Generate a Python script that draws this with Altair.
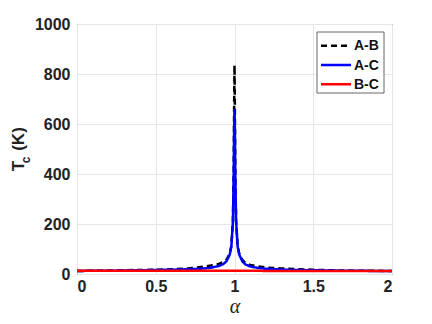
import altair as alt
import pandas as pd

alpha = [0.0, 0.1, 0.2, 0.3, 0.4, 0.5, 0.6, 0.7, 0.75, 0.8, 0.85, 0.9, 0.93, 0.95, 0.97,
         0.98, 0.99, 0.995, 0.998, 1.0, 1.002, 1.005, 1.01, 1.02, 1.03, 1.05, 1.07, 1.1,
         1.15, 1.2, 1.25, 1.3, 1.4, 1.5, 1.6, 1.7, 1.8, 1.9, 2.0]
tc_ab = [12, 13, 14, 15, 16, 17, 19, 22, 25, 29, 34, 40, 48, 58, 82,
         112, 215, 420, 700, 835, 700, 420, 215, 112, 82, 56, 44, 36,
         30, 26, 24, 22, 19, 17, 15, 14, 13, 13, 12]
tc_ac = [12, 13, 13, 14, 15, 16, 17, 19, 20, 22, 25, 32, 40, 52, 78,
         110, 210, 400, 600, 660, 600, 400, 210, 110, 78, 50, 38, 30,
         24, 21, 19, 18, 16, 15, 14, 13, 13, 12, 12]
tc_bc = [13, 13, 13, 13, 13, 13, 13, 13, 13, 13, 13, 13, 13, 13, 13,
         13, 13, 13, 13, 13, 13, 13, 13, 13, 13, 13, 13, 13,
         13, 12, 12, 12, 12, 12, 12, 12, 12, 12, 12]
series = ["A-B", "A-C", "B-C"]
colors = ["#000000", "#0000ff", "#ff0000"]
dashes = [[6, 4], [1, 0], [1, 0]]

rows = []
for name, vals in zip(series, [tc_ab, tc_ac, tc_bc]):
    for i, (a, t) in enumerate(zip(alpha, vals)):
        rows.append({"alpha": a, "Tc": t, "series": name, "order": i})
df = pd.DataFrame(rows)

font = "Liberation Sans"

lines = alt.Chart(df).mark_line(strokeWidth=2.5, clip=True).encode(
    x=alt.X("alpha:Q", scale=alt.Scale(domain=[0, 2], nice=False),
            axis=alt.Axis(values=[0, 0.5, 1, 1.5, 2], format="~g", title="α",
                          labelPadding=4,
                          titleFont="Liberation Serif", titleFontStyle="italic",
                          titleFontWeight="normal", titleFontSize=20,
                          titleY=38, titleBaseline="alphabetic", titleColor="#222")),
    y=alt.Y("Tc:Q", scale=alt.Scale(domain=[0, 1000], nice=False),
            axis=alt.Axis(values=[0, 200, 400, 600, 800, 1000], format="d", title=None,
                          labelPadding=7)),
    color=alt.Color("series:N", scale=alt.Scale(domain=series, range=colors), legend=None),
    strokeDash=alt.StrokeDash("series:N", scale=alt.Scale(domain=series, range=dashes),
                              legend=None),
    order="order:Q",
)

# y-axis title with subscript
def label(txt, size, x, y):
    return alt.Chart(pd.DataFrame({"t": [txt]})).mark_text(
        angle=270, font=font, fontWeight="bold", fontSize=size, color="#222",
        align="center", baseline="alphabetic").encode(
        text="t:N", x=alt.value(x), y=alt.value(y))

ytitle = [label("T", 17, -53, 142), label("c", 12, -47, 136), label("(K)", 17, -53, 115)]

# legend box
one = pd.DataFrame({"k": [0]})
box = alt.Chart(one).mark_rect(fill="white", stroke="#666", strokeWidth=1).encode(
    x=alt.value(240), x2=alt.value(307), y=alt.value(8), y2=alt.value(69))
legend_layers = [box]
row_y = [21.7, 41, 60.3]
for name, col, dash, yy in zip(series, colors, dashes, row_y):
    d = pd.DataFrame({"s": [name]})
    legend_layers.append(alt.Chart(d).mark_rule(color=col, strokeWidth=2.5, strokeDash=dash).encode(
        x=alt.value(244), x2=alt.value(274), y=alt.value(yy)))
    legend_layers.append(alt.Chart(d).mark_text(font=font, fontWeight="bold", fontSize=14,
                                                color="#111", align="left", baseline="middle").encode(
        text="s:N", x=alt.value(277), y=alt.value(yy + 0.5)))

chart = alt.layer(lines, *ytitle, *legend_layers).properties(
    width=315, height=250,
    autosize=alt.AutoSizeParams(type="none"),
    padding={"left": 69, "top": 16, "right": 32, "bottom": 42},
).configure_view(
    stroke="#3a3a3a", strokeWidth=1
).configure_axis(
    labelFont=font, labelFontWeight="bold", labelFontSize=16, labelColor="#222",
    grid=True, gridColor="#e6e6e6", gridWidth=1,
    domain=False, ticks=False,
)

chart.save("out.html", embed_options={"renderer": "svg", "actions": False})
